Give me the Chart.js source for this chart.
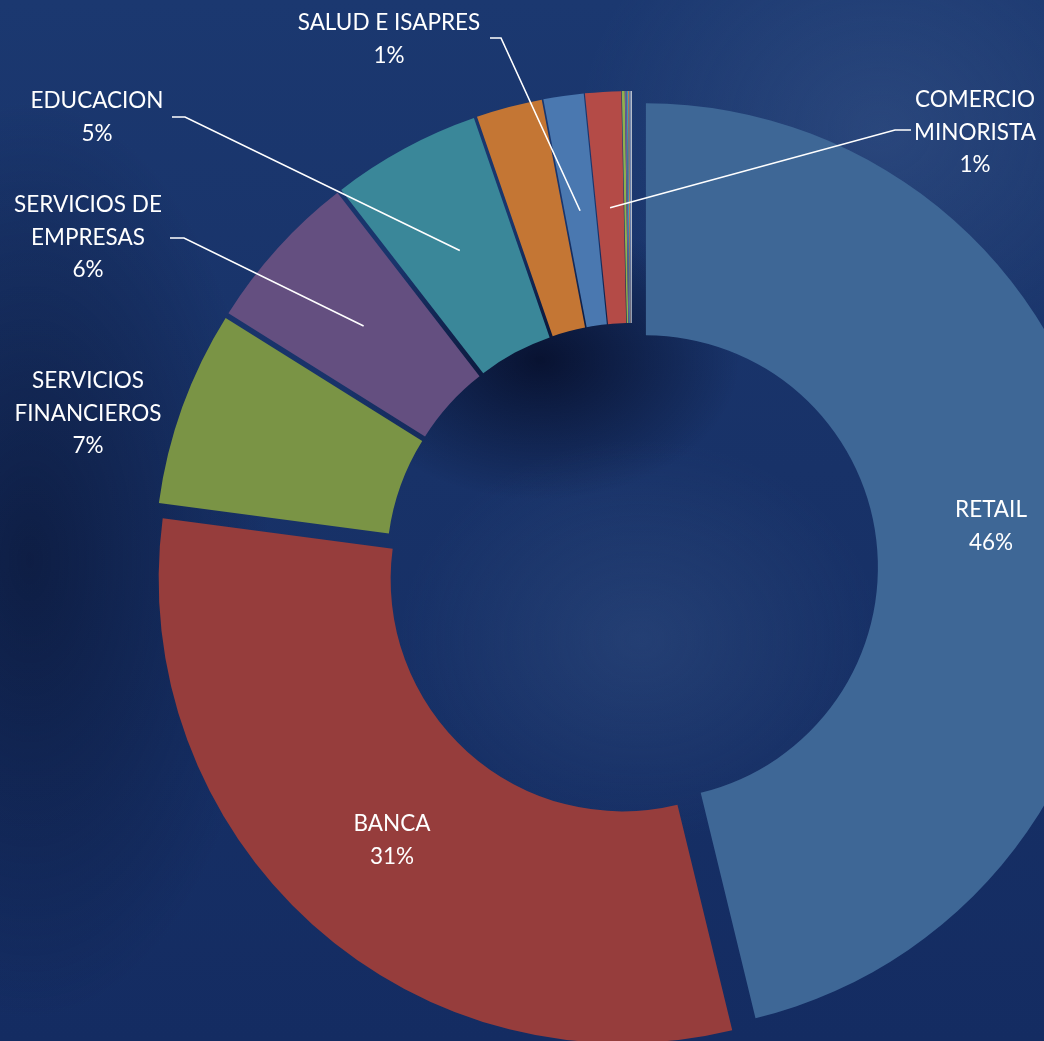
<!DOCTYPE html>
<html>
<head>
<meta charset="utf-8">
<script src="https://cdn.jsdelivr.net/npm/chart.js@4.4.1/dist/chart.umd.min.js"></script>
<style>
  html, body {
    margin: 0;
    padding: 0;
    width: 1044px;
    height: 1041px;
    overflow: hidden;
  }
  body {
    background:
      radial-gradient(ellipse 240px 460px at 30px 560px, rgba(6, 14, 40, 0.55), rgba(6, 14, 40, 0) 100%),
      radial-gradient(ellipse 300px 260px at 880px 130px, rgba(70, 100, 150, 0.35), rgba(70, 100, 150, 0) 100%),
      radial-gradient(ellipse 240px 200px at 640px 640px, rgba(60, 90, 140, 0.35), rgba(60, 90, 140, 0) 100%),
      radial-gradient(ellipse 200px 140px at 540px 360px, rgba(4, 10, 35, 0.8), rgba(4, 10, 35, 0) 100%),
      linear-gradient(180deg, #1b3870 0%, #183268 45%, #142c62 100%);
  }
  #chart {
    position: absolute;
    left: 0;
    top: 0;
  }
</style>
</head>
<body>
<canvas id="chart"></canvas>
<script>
//---------------------------------------
// Data
//---------------------------------------
const categories = [
  'RETAIL', 'BANCA', 'SERVICIOS FINANCIEROS', 'SERVICIOS DE EMPRESAS', 'EDUCACION',
  'OTROS A', 'SALUD E ISAPRES', 'COMERCIO MINORISTA',
  'OTROS B', 'OTROS C', 'OTROS D', 'OTROS E', 'OTROS F', 'OTROS G'
];
const shares = [46.2, 30.9, 6.8, 5.6, 5.2, 2.3, 1.4, 1.25, 0.1, 0.06, 0.05, 0.04, 0.04, 0.05];
const slice_colors = [
  '#3e6796', '#963d3c', '#7a9445', '#644f80', '#3a8799', '#c47634',
  '#4a78b0', '#b44b47', '#8fb04f', '#6f5a97', '#3f9ab2', '#d08a4a', '#6d86b8', '#b9c0cc'
];

//---------------------------------------
// Global (layout)
//---------------------------------------
const CENTER_X = 632;
const CENTER_Y = 569;
const OUTER_R = 464;
const EXPLODE = 14;
const FONT = '22.5px Lato, "Open Sans", sans-serif';
const LINE_H = 32.5;

// label text placement, leader elbow (null = no leader)
const label_layout = {
  'RETAIL':                { x: 991, y: 510, lines: ['RETAIL'], elbow: null },
  'BANCA':                 { x: 392, y: 824, lines: ['BANCA'], elbow: null },
  'SERVICIOS FINANCIEROS': { x: 88,  y: 381, lines: ['SERVICIOS', 'FINANCIEROS'], elbow: null },
  'SERVICIOS DE EMPRESAS': { x: 88,  y: 205, lines: ['SERVICIOS DE', 'EMPRESAS'], elbow: [[170, 238], [184, 238]] },
  'EDUCACION':             { x: 97,  y: 101, lines: ['EDUCACION'], elbow: [[172, 117], [185, 117]] },
  'SALUD E ISAPRES':       { x: 389, y: 23,  lines: ['SALUD E ISAPRES'], elbow: [[490, 38], [501, 38]] },
  'COMERCIO MINORISTA':    { x: 975, y: 100, lines: ['COMERCIO', 'MINORISTA'], elbow: [[911, 130], [895, 130]] }
};

//---------------------------------------
// Element (exploded arcs)
//---------------------------------------
const base_arc_draw = Chart.ArcElement.prototype.draw;
Chart.ArcElement.prototype.draw = function (ctx) {
  const half = (this.startAngle + this.endAngle) / 2;
  ctx.save();
  ctx.translate(Math.cos(half) * EXPLODE, Math.sin(half) * EXPLODE);
  base_arc_draw.call(this, ctx);
  ctx.restore();
};

//---------------------------------------
// Plugin (data labels + leader lines)
//---------------------------------------
const label_plugin = {
  id: 'label_plugin',
  afterDatasetsDraw(chart) {
    const ctx = chart.ctx;
    const meta = chart.getDatasetMeta(0);
    const total = shares.reduce((a, b) => a + b, 0);
    ctx.save();
    ctx.font = FONT;
    ctx.fillStyle = '#ffffff';
    ctx.strokeStyle = '#ffffff';
    ctx.lineWidth = 1.6;
    ctx.textAlign = 'center';
    ctx.textBaseline = 'middle';
    for (let i = 0; i < categories.length; i++) {
      const lay = label_layout[categories[i]];
      if (!lay) continue;
      const arc = meta.data[i];
      if (lay.elbow) {
        const half = (arc.startAngle + arc.endAngle) / 2;
        const c = arc.getCenterPoint();
        const px = c.x + Math.cos(half) * EXPLODE;
        const py = c.y + Math.sin(half) * EXPLODE;
        ctx.beginPath();
        ctx.moveTo(lay.elbow[0][0], lay.elbow[0][1]);
        ctx.lineTo(lay.elbow[1][0], lay.elbow[1][1]);
        ctx.lineTo(px, py);
        ctx.stroke();
      }
      const pct = Math.round(shares[i] / total * 100) + '%';
      const lines = lay.lines.concat([pct]);
      for (let k = 0; k < lines.length; k++) {
        ctx.fillText(lines[k], lay.x, lay.y + k * LINE_H);
      }
    }
    ctx.restore();
  }
};

//---------------------------------------
// Chart
//---------------------------------------
const canvas = document.getElementById('chart');
canvas.width = CENTER_X * 2;
canvas.height = CENTER_Y * 2;

new Chart(canvas, {
  type: 'doughnut',
  data: {
    labels: categories,
    datasets: [{
      data: shares,
      backgroundColor: slice_colors,
      borderWidth: 0
    }]
  },
  options: {
    responsive: false,
    animation: false,
    radius: OUTER_R,
    cutout: '50%',
    layout: { padding: 0 },
    plugins: {
      legend: { display: false },
      tooltip: { enabled: false }
    }
  },
  plugins: [label_plugin]
});
</script>
</body>
</html>
